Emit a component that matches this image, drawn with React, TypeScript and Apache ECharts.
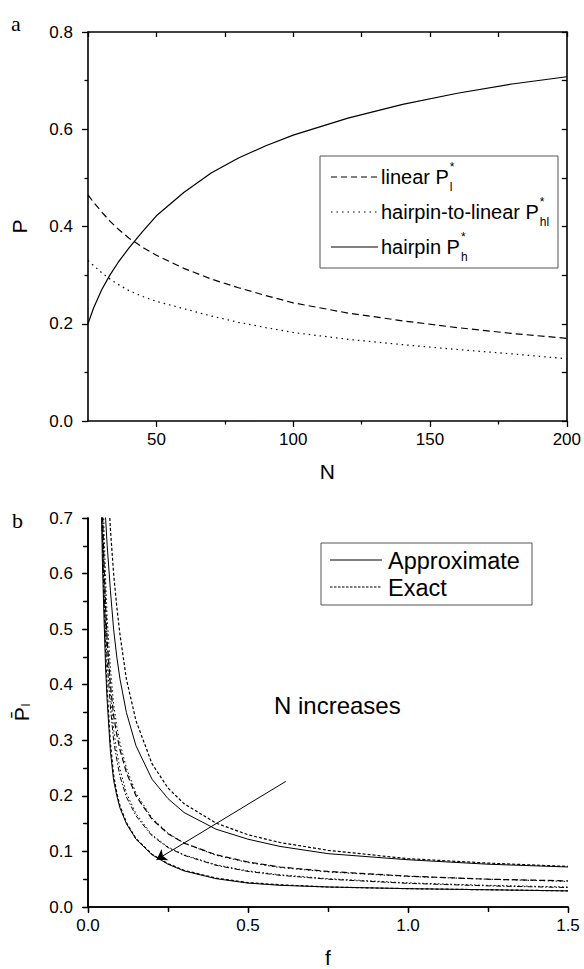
import React, { useEffect, useRef } from "react";
import * as echarts from "echarts";

// ---------- Panel a data ----------
const nValues = [25, 27, 30, 33, 36, 40, 45, 50, 60, 70, 80, 90, 100, 120, 140, 160, 180, 200];
const linearP = [0.465, 0.45, 0.43, 0.411, 0.395, 0.376, 0.357, 0.341, 0.314, 0.292, 0.274, 0.258, 0.243, 0.222, 0.206, 0.192, 0.18, 0.17];
const hairpinToLinearP = [0.33, 0.32, 0.305, 0.292, 0.281, 0.268, 0.256, 0.246, 0.231, 0.216, 0.203, 0.192, 0.182, 0.168, 0.157, 0.147, 0.138, 0.128];
const hairpinP = [0.2, 0.232, 0.27, 0.3, 0.326, 0.356, 0.39, 0.422, 0.47, 0.51, 0.541, 0.566, 0.588, 0.623, 0.651, 0.674, 0.693, 0.708];
const nMajorTicks = [50, 100, 150, 200];
const nMinorTicks = [75, 125, 175];

// ---------- Panel b data ----------
const fValues = [0.04, 0.045, 0.05, 0.055, 0.06, 0.07, 0.08, 0.09, 0.1, 0.12, 0.15, 0.2, 0.25, 0.3, 0.4, 0.5, 0.6, 0.75, 1.0, 1.25, 1.5];
const approxN1 = [null, null, 0.77, 0.7, 0.65, 0.57, 0.5, 0.45, 0.41, 0.35, 0.29, 0.23, 0.195, 0.17, 0.14, 0.122, 0.109, 0.096, 0.085, 0.077, 0.072];
const exactN1 = [null, null, null, null, 0.79, 0.68, 0.6, 0.54, 0.49, 0.41, 0.335, 0.258, 0.214, 0.186, 0.151, 0.13, 0.116, 0.102, 0.087, 0.079, 0.073];
const approxN2 = [null, 0.72, 0.62, 0.54, 0.48, 0.4, 0.345, 0.31, 0.283, 0.242, 0.2, 0.158, 0.132, 0.115, 0.094, 0.081, 0.072, 0.064, 0.0555, 0.05, 0.047];
const exactN2 = [null, 0.8, 0.68, 0.59, 0.52, 0.43, 0.365, 0.325, 0.295, 0.25, 0.205, 0.16, 0.133, 0.115, 0.093, 0.08, 0.071, 0.063, 0.055, 0.05, 0.046];
const approxN3 = [0.78, 0.66, 0.57, 0.5, 0.44, 0.36, 0.3, 0.265, 0.235, 0.198, 0.164, 0.128, 0.107, 0.093, 0.075, 0.064, 0.057, 0.05, 0.0425, 0.038, 0.035];
const exactN3 = [0.85, 0.72, 0.62, 0.54, 0.475, 0.385, 0.32, 0.28, 0.248, 0.205, 0.168, 0.13, 0.108, 0.094, 0.076, 0.065, 0.058, 0.051, 0.0435, 0.039, 0.036];
const approxN4 = [0.78, 0.62, 0.52, 0.43, 0.37, 0.28, 0.228, 0.2, 0.178, 0.15, 0.122, 0.094, 0.077, 0.065, 0.051, 0.043, 0.039, 0.036, 0.033, 0.031, 0.029];
const exactN4 = [0.85, 0.68, 0.56, 0.46, 0.39, 0.295, 0.238, 0.205, 0.182, 0.152, 0.123, 0.095, 0.078, 0.066, 0.052, 0.044, 0.04, 0.036, 0.033, 0.031, 0.029];
const arrowStart = [0.618, 0.226];
const arrowEnd = [0.214, 0.085];

const FONT = '"Liberation Sans", Arial, sans-serif';

function zip(xs: number[], ys: (number | null)[]) {
  const out: number[][] = [];
  xs.forEach((x, i) => {
    if (ys[i] !== null && ys[i] !== undefined) out.push([x, ys[i] as number]);
  });
  return out;
}

function measure(text: string, font: string) {
  const ctx = document.createElement("canvas").getContext("2d")!;
  ctx.font = font;
  return ctx.measureText(text).width;
}

export default function App() {
  const ref = useRef<HTMLDivElement>(null);
  useEffect(() => {
    if (!ref.current) return;
    const chart = echarts.init(ref.current, null, { renderer: "svg" });

    const axisLine = { show: true, lineStyle: { color: "#000", width: 1.6 } };
    const lbl = { color: "#000", fontSize: 17, fontFamily: FONT };
    const tickStyle = { color: "#000", width: 1.3 };

    const lineSeries = (
      name: string,
      data: number[][],
      type: any,
      xi: number,
      yi: number,
      width = 1.2
    ) => ({
      name,
      type: "line",
      xAxisIndex: xi,
      yAxisIndex: yi,
      data,
      symbol: "none",
      showSymbol: false,
      smooth: false,
      clip: true,
      lineStyle: { color: "#000", width, type },
      z: 3,
    });

    const legFont = `20px ${FONT}`;
    const topLegend = [
      { label: "linear P", sub: "l", dash: [6, 4], y: 177 },
      { label: "hairpin-to-linear P", sub: "hl", dash: [1.5, 4], y: 212 },
      { label: "hairpin P", sub: "h", dash: null, y: 247 },
    ];
    const graphics: any[] = [
      { type: "text", x: 11, y: 23, style: { text: "a", font: `22px "Liberation Serif", serif`, fill: "#000", verticalAlign: "middle" } },
      { type: "text", x: 12, y: 520, style: { text: "b", font: `22px "Liberation Serif", serif`, fill: "#000", verticalAlign: "middle" } },
      { type: "rect", shape: { x: 320, y: 156, width: 238, height: 112 }, style: { fill: "#fff", stroke: "#555", lineWidth: 1 }, z: 10 },
      { type: "rect", shape: { x: 321, y: 543, width: 211, height: 62 }, style: { fill: "#fff", stroke: "#555", lineWidth: 1 }, z: 10 },
      { type: "line", shape: { x1: 330, y1: 560, x2: 382, y2: 560 }, style: { stroke: "#000", lineWidth: 1.2 }, z: 11 },
      { type: "line", shape: { x1: 330, y1: 587, x2: 382, y2: 587 }, style: { stroke: "#000", lineWidth: 1.2, lineDash: [2.5, 1.5] }, z: 11 },
      { type: "text", x: 388, y: 561, style: { text: "Approximate", font: `23.5px ${FONT}`, fill: "#000", verticalAlign: "middle" }, z: 11 },
      { type: "text", x: 388, y: 588, style: { text: "Exact", font: `23.5px ${FONT}`, fill: "#000", verticalAlign: "middle" }, z: 11 },
      { type: "text", x: 274, y: 705, style: { text: "N increases", font: `24px ${FONT}`, fill: "#000", verticalAlign: "middle" }, z: 11 },
    ];
    topLegend.forEach((it) => {
      const w = measure(it.label, legFont);
      graphics.push({
        type: "line",
        shape: { x1: 331, y1: it.y, x2: 378, y2: it.y },
        style: { stroke: "#000", lineWidth: 1.2, lineDash: it.dash || undefined },
        z: 11,
      });
      graphics.push({ type: "text", x: 381, y: it.y, style: { text: it.label, font: legFont, fill: "#000", verticalAlign: "middle" }, z: 11 });
      graphics.push({ type: "text", x: 382 + w, y: it.y - 10, style: { text: "*", font: `12px ${FONT}`, fill: "#000", verticalAlign: "middle" }, z: 11 });
      graphics.push({ type: "text", x: 382 + w, y: it.y + 10, style: { text: it.sub, font: `12px ${FONT}`, fill: "#000", verticalAlign: "middle" }, z: 11 });
    });

    chart.setOption({
      animation: false,
      textStyle: { fontFamily: FONT },
      grid: [
        { left: 88, top: 32, width: 480, height: 389, containLabel: false },
        { left: 88, top: 518, width: 480, height: 398, containLabel: false },
      ],
      xAxis: [
        {
          gridIndex: 0, type: "value", position: "bottom", min: 25, max: 200,
          axisLine, splitLine: { show: false },
          axisTick: { show: true, customValues: nMajorTicks, length: 6, lineStyle: tickStyle },
          axisLabel: { ...lbl, customValues: nMajorTicks, margin: 10 },
          name: "N", nameLocation: "middle", nameGap: 40,
          nameTextStyle: { color: "#000", fontSize: 21, fontFamily: FONT },
        },
        {
          gridIndex: 0, type: "value", position: "bottom", min: 25, max: 200,
          axisLine: { show: false }, splitLine: { show: false },
          axisTick: { show: true, customValues: nMinorTicks, length: 3.5, lineStyle: tickStyle },
          axisLabel: { show: false },
        },
        {
          gridIndex: 0, type: "value", position: "top", min: 25, max: 200, interval: 25,
          axisLine, splitLine: { show: false },
          axisTick: { show: true, inside: true, length: 5, lineStyle: tickStyle },
          axisLabel: { show: false },
        },
        {
          gridIndex: 1, type: "value", position: "bottom", min: 0, max: 1.5, interval: 0.5,
          axisLine, splitLine: { show: false },
          axisTick: { show: true, length: 6, lineStyle: tickStyle },
          minorTick: { show: true, splitNumber: 2, length: 3.5, lineStyle: tickStyle },
          minorSplitLine: { show: false },
          axisLabel: { ...lbl, margin: 10, formatter: (v: number) => v.toFixed(1) },
          name: "f", nameLocation: "middle", nameGap: 40,
          nameTextStyle: { color: "#000", fontSize: 21, fontFamily: FONT },
        },
        {
          gridIndex: 1, type: "value", position: "top", min: 0, max: 1.5, interval: 0.25,
          axisLine, splitLine: { show: false },
          axisTick: { show: true, inside: true, length: 5, lineStyle: tickStyle },
          axisLabel: { show: false },
        },
      ],
      yAxis: [
        {
          gridIndex: 0, type: "value", position: "left", min: 0, max: 0.8, interval: 0.2,
          axisLine, splitLine: { show: false },
          axisTick: { show: true, length: 6, lineStyle: tickStyle },
          minorTick: { show: true, splitNumber: 2, length: 3.5, lineStyle: tickStyle },
          minorSplitLine: { show: false },
          axisLabel: { ...lbl, margin: 15, formatter: (v: number) => v.toFixed(1) },
          name: "P", nameLocation: "middle", nameGap: 58,
          nameTextStyle: { color: "#000", fontSize: 21, fontFamily: FONT },
        },
        {
          gridIndex: 0, type: "value", position: "right", min: 0, max: 0.8, interval: 0.1,
          axisLine, splitLine: { show: false },
          axisTick: { show: true, inside: true, length: 5, lineStyle: tickStyle },
          axisLabel: { show: false },
        },
        {
          gridIndex: 1, type: "value", position: "left", min: 0, max: 0.7, interval: 0.1,
          axisLine, splitLine: { show: false },
          axisTick: { show: true, length: 6, lineStyle: tickStyle },
          minorTick: { show: true, splitNumber: 2, length: 3.5, lineStyle: tickStyle },
          minorSplitLine: { show: false },
          axisLabel: { ...lbl, margin: 15, formatter: (v: number) => v.toFixed(1) },
          name: "{p|P\u0304}{s|l}", nameLocation: "middle", nameGap: 56,
          nameTextStyle: {
            color: "#000", fontFamily: FONT,
            rich: {
              p: { fontSize: 21, color: "#000", fontFamily: FONT },
              s: { fontSize: 12, color: "#000", fontFamily: FONT, padding: [10, 0, 0, 1] },
            },
          },
        },
        {
          gridIndex: 1, type: "value", position: "right", min: 0, max: 0.7, interval: 0.05,
          axisLine, splitLine: { show: false },
          axisTick: { show: true, inside: true, length: 5, lineStyle: tickStyle },
          axisLabel: { show: false },
        },
      ],
      series: [
        lineSeries("linear", zip(nValues, linearP), [7, 4], 0, 0),
        lineSeries("hairpin-to-linear", zip(nValues, hairpinToLinearP), [1.5, 4], 0, 0),
        lineSeries("hairpin", zip(nValues, hairpinP), "solid", 0, 0),
        lineSeries("Approximate N1", zip(fValues, approxN1), "solid", 3, 2, 1),
        lineSeries("Exact N1", zip(fValues, exactN1), [3, 2], 3, 2),
        lineSeries("Approximate N2", zip(fValues, approxN2), [6, 3], 3, 2),
        lineSeries("Exact N2", zip(fValues, exactN2), [1.5, 2.5], 3, 2, 1),
        lineSeries("Approximate N3", zip(fValues, approxN3), [5, 2, 1.5, 2], 3, 2, 1),
        lineSeries("Exact N3", zip(fValues, exactN3), [1.5, 2.5], 3, 2, 1),
        lineSeries("Approximate N4", zip(fValues, approxN4), "solid", 3, 2, 1),
        lineSeries("Exact N4", zip(fValues, exactN4), [3, 2], 3, 2),
        {
          name: "arrow",
          type: "lines",
          coordinateSystem: "cartesian2d",
          xAxisIndex: 3,
          yAxisIndex: 2,
          symbol: ["none", "arrow"],
          symbolSize: [0, 10],
          lineStyle: { color: "#000", width: 1, opacity: 1 },
          data: [{ coords: [arrowStart, arrowEnd] }],
          z: 5,
        },
      ],
      graphic: graphics,
    });
    return () => chart.dispose();
  }, []);
  return <div ref={ref} style={{ position: "absolute", left: 0, top: 0, width: 584, height: 969, background: "#fff" }} />;
}
